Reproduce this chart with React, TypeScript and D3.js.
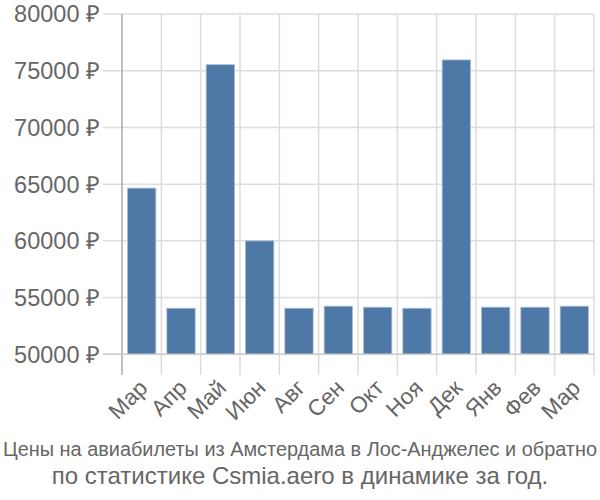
import React from "react";
import * as d3 from "d3";

const months = ["Мар", "Апр", "Май", "Июн", "Авг", "Сен", "Окт", "Ноя", "Дек", "Янв", "Фев", "Мар"];
const prices = [64650, 54060, 75530, 60000, 54060, 54240, 54150, 54060, 75950, 54150, 54150, 54240];
const yTicks = [50000, 55000, 60000, 65000, 70000, 75000, 80000];
const titleLines = [
  "Цены на авиабилеты из Амстердама в Лос-Анджелес и обратно",
  "по статистике Csmia.aero в динамике за год.",
];

export default function App() {
  const W = 600, H = 500;
  const left = 122, right = 594, top = 14, bottom = 354.3;
  const idx = months.map((_, i) => i);
  const x = d3.scaleBand<number>().domain(idx).range([left, right]).paddingInner(0.28).paddingOuter(0.14);
  const xg = d3.scaleBand<number>().domain(idx).range([left, right]);
  const y = d3.scaleLinear().domain([50000, 80000]).range([bottom, top]);
  const grid = "#dddddd";
  const txt = "#666666";
  return (
    <svg width={W} height={H} style={{ position: "absolute", left: 0, top: 0 }} fontFamily="'Liberation Sans', Arial, sans-serif">
      <rect x={0} y={0} width={W} height={H} fill="#fff" />
      {yTicks.map((t) => (
        <g key={t}>
          <line x1={103} x2={right} y1={y(t)} y2={y(t)} stroke={grid} strokeWidth={1.5} />
          <text x={100} y={y(t)} dy="0.36em" textAnchor="end" fontSize={23.5} fill={txt}>
            {t} ₽
          </text>
        </g>
      ))}
      {idx.map((i) => (
        <line key={"g" + i} x1={(xg(i) as number) + xg.bandwidth()} x2={(xg(i) as number) + xg.bandwidth()} y1={top} y2={375} stroke={grid} strokeWidth={1.5} />
      ))}
      {prices.map((v, i) => (
        <rect key={"b" + i} x={x(i)} y={y(v)} width={x.bandwidth()} height={bottom - y(v)} fill="#4e79a7" stroke="#a9bdd3" strokeWidth={0.8} />
      ))}
      <line x1={left} x2={left} y1={top} y2={375} stroke="#aaaaaa" strokeWidth={1.5} />
      <line x1={103} x2={right} y1={bottom} y2={bottom} stroke="#cccccc" strokeWidth={1.5} />
      {months.map((m, i) => {
        const cx = (xg(i) as number) + xg.bandwidth() / 2;
        return (
          <text key={"l" + i} transform={`translate(${cx - 4},${378}) rotate(-45)`} textAnchor="end" dy="0.71em" fontSize={22.5} fill={txt}>
            {m}
          </text>
        );
      })}
      <text x={300} y={456} textAnchor="middle" fontSize={20} fill={txt} textLength={594} lengthAdjust="spacingAndGlyphs">
        {titleLines[0]}
      </text>
      <text x={300} y={484} textAnchor="middle" fontSize={24} fill={txt}>
        {titleLines[1]}
      </text>
    </svg>
  );
}
